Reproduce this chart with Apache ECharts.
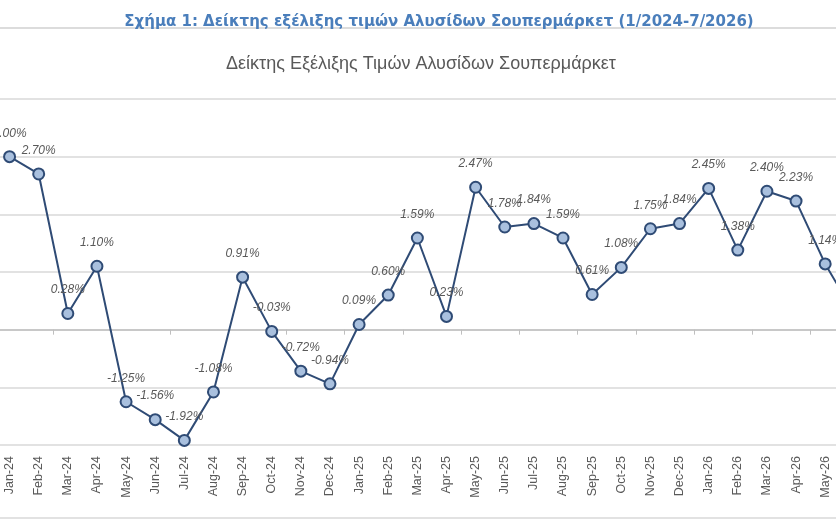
<!DOCTYPE html>
<html>
<head>
<meta charset="utf-8">
<script src="https://cdn.jsdelivr.net/npm/echarts@6/dist/echarts.min.js"></script>
<style>
  html, body { margin: 0; padding: 0; background: #fff; }
  #chart { width: 836px; height: 522px; }
</style>
</head>
<body>
<div id="chart"></div>
<script>
  var months = [
    'Jan-24', 'Feb-24', 'Mar-24', 'Apr-24', 'May-24', 'Jun-24', 'Jul-24', 'Aug-24',
    'Sep-24', 'Oct-24', 'Nov-24', 'Dec-24', 'Jan-25', 'Feb-25', 'Mar-25', 'Apr-25',
    'May-25', 'Jun-25', 'Jul-25', 'Aug-25', 'Sep-25', 'Oct-25', 'Nov-25', 'Dec-25',
    'Jan-26', 'Feb-26', 'Mar-26', 'Apr-26', 'May-26', 'Jun-26', 'Jul-26'
  ];
  var indexChange = [
    3.00, 2.70, 0.28, 1.10, -1.25, -1.56, -1.92, -1.08,
    0.91, -0.03, -0.72, -0.94, 0.09, 0.60, 1.59, 0.23,
    2.47, 1.78, 1.84, 1.59, 0.61, 1.08, 1.75, 1.84,
    2.45, 1.38, 2.40, 2.23, 1.14, 0.28, 0.50
  ];
  var pageTitle = 'Σχήμα 1: Δείκτης εξέλιξης τιμών Αλυσίδων Σουπερμάρκετ (1/2024-7/2026)';
  var chartTitle = 'Δείκτης Εξέλιξης Τιμών Αλυσίδων Σουπερμάρκετ';

  var font = '"Liberation Sans", Arial, sans-serif';
  var chart = echarts.init(document.getElementById('chart'));
  chart.setOption({
    backgroundColor: '#fff',
    animation: false,
    title: [
      {
        text: pageTitle,
        left: 434, top: 10, textAlign: 'center',
        textStyle: { color: '#4a7ebb', fontSize: 15, fontWeight: 'bold', fontFamily: '"DejaVu Sans", Verdana, sans-serif' }
      },
      {
        text: chartTitle,
        left: 416, top: 50, textAlign: 'center',
        textStyle: { color: '#595959', fontSize: 18, fontWeight: 'normal', fontFamily: font }
      }
    ],
    graphic: [
      { type: 'line', shape: { x1: 0, y1: 28, x2: 836, y2: 28 }, style: { stroke: '#d0d0d0', lineWidth: 1.5 } },
      { type: 'line', shape: { x1: 0, y1: 518, x2: 836, y2: 518 }, style: { stroke: '#d9d9d9', lineWidth: 1.5 } }
    ],
    grid: { left: -5, right: -62, top: 99, bottom: 77, outerBoundsMode: 'none', containLabel: false },
    xAxis: [
      {
        type: 'category',
        data: months,
        position: 'top',
        axisLine: { onZero: true, lineStyle: { color: '#bfbfbf', width: 1.5 } },
        axisTick: { show: true, inside: true, length: 5, lineStyle: { color: '#bfbfbf' } },
        axisLabel: { show: false }
      },
      {
        type: 'category',
        data: months,
        position: 'bottom',
        axisLine: { show: false, onZero: false },
        axisTick: { show: false },
        axisLabel: {
          rotate: 90, margin: 11, interval: 0,
          color: '#595959', fontSize: 12.5, fontFamily: font
        }
      }
    ],
    yAxis: {
      type: 'value',
      min: -2, max: 4, interval: 1,
      axisLine: { show: false },
      axisTick: { show: false },
      axisLabel: { show: false },
      splitLine: { lineStyle: { color: '#d9d9d9', width: 1.5 } }
    },
    series: [
      {
        name: chartTitle,
        type: 'line',
        data: indexChange,
        xAxisIndex: 0,
        symbol: 'circle',
        symbolSize: 11,
        lineStyle: { color: '#2f4b75', width: 2 },
        itemStyle: { color: '#a9c0de', borderColor: '#2f4b75', borderWidth: 2 },
        label: {
          show: true,
          position: 'top',
          distance: 11,
          formatter: function (p) { return p.value.toFixed(2) + '%'; },
          color: '#595959',
          fontSize: 12,
          fontStyle: 'italic',
          fontFamily: font
        }
      }
    ]
  });
</script>
</body>
</html>
